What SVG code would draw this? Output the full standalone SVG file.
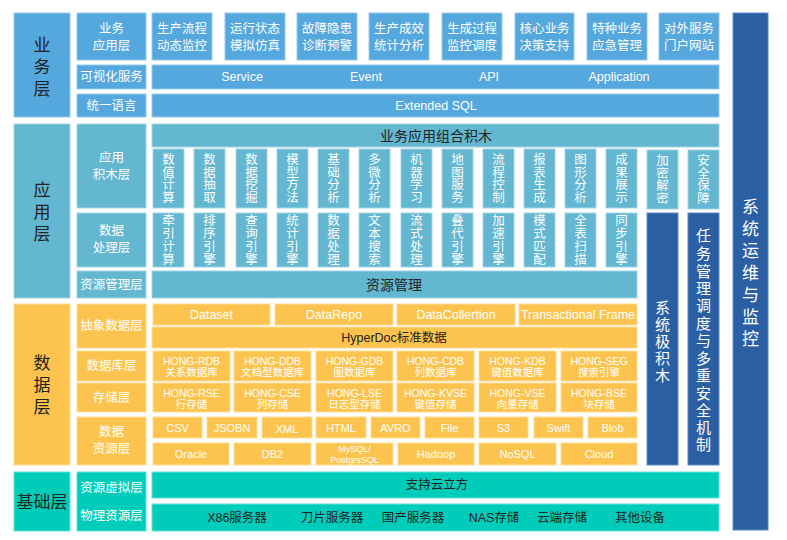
<svg xmlns="http://www.w3.org/2000/svg" width="787" height="540" viewBox="0 0 787 540">
<style>
text{font-family:"Liberation Sans","Noto Sans CJK SC",sans-serif;text-anchor:middle;dominant-baseline:central}
.b{fill:#55A8DD;stroke:#93CBEE;stroke-width:1}
.a{fill:#63B7D1;stroke:#A3D5E5;stroke-width:1}
.d{fill:#FCC44E;stroke:#FDDC95;stroke-width:1}
.g{fill:#00CDB9;stroke:#6BE2D6;stroke-width:1}
.k{fill:#2A5FA4;stroke:#5F8AC2;stroke-width:1}
.w{fill:#fff}
.t{fill:#222}
.f12{font-size:12.5px}
.f11{font-size:11px}
.f10{font-size:10.5px}
.f9{font-size:9px}
.big{font-size:17px}
</style>
<rect width="787" height="540" fill="#fff"/>

<!-- Business layer -->
<g id="biz-layer">
<rect class="b" x="14" y="13" width="56" height="104"/>
<text class="t big" x="42" y="45">业</text><text class="t big" x="42" y="67">务</text><text class="t big" x="42" y="89">层</text>
</g>
<g id="biz-app-label"><rect class="b" x="77" y="13" width="69" height="47"/>
<text class="w f12" x="111.5" y="29">业务</text><text class="w f12" x="111.5" y="46">应用层</text></g>
<g id="biz-vis-label"><rect class="b" x="77" y="65" width="69" height="24"/><text class="w f12" x="111.5" y="77">可视化服务</text></g>
<g id="biz-lang-label"><rect class="b" x="77" y="94" width="69" height="23"/><text class="w f12" x="111.5" y="105.5">统一语言</text></g>
<g id="biz-f1"><rect class="b" x="152" y="13" width="60" height="47"/><text class="w f12" x="182" y="29">生产流程</text><text class="w f12" x="182" y="46">动态监控</text></g>
<g id="biz-f2"><rect class="b" x="225" y="13" width="60" height="47"/><text class="w f12" x="255" y="29">运行状态</text><text class="w f12" x="255" y="46">模拟仿真</text></g>
<g id="biz-f3"><rect class="b" x="297" y="13" width="60" height="47"/><text class="w f12" x="327" y="29">故障隐患</text><text class="w f12" x="327" y="46">诊断预警</text></g>
<g id="biz-f4"><rect class="b" x="369" y="13" width="60" height="47"/><text class="w f12" x="399" y="29">生产成效</text><text class="w f12" x="399" y="46">统计分析</text></g>
<g id="biz-f5"><rect class="b" x="442" y="13" width="60" height="47"/><text class="w f12" x="472" y="29">生成过程</text><text class="w f12" x="472" y="46">监控调度</text></g>
<g id="biz-f6"><rect class="b" x="515" y="13" width="59" height="47"/><text class="w f12" x="544.5" y="29">核心业务</text><text class="w f12" x="544.5" y="46">决策支持</text></g>
<g id="biz-f7"><rect class="b" x="587" y="13" width="60" height="47"/><text class="w f12" x="617" y="29">特种业务</text><text class="w f12" x="617" y="46">应急管理</text></g>
<g id="biz-f8"><rect class="b" x="659" y="13" width="60" height="47"/><text class="w f12" x="689" y="29">对外服务</text><text class="w f12" x="689" y="46">门户网站</text></g>
<g id="biz-services"><rect class="b" x="152" y="65" width="567" height="24"/>
<text class="w f12" x="242" y="77">Service</text><text class="w f12" x="366" y="77">Event</text><text class="w f12" x="489" y="77">API</text><text class="w f12" x="619" y="77">Application</text></g>
<g id="biz-sql"><rect class="b" x="152" y="94" width="567" height="23"/><text class="w f12" x="436" y="105.5">Extended SQL</text></g>

<!-- Application layer -->
<g id="app-layer"><rect class="a" x="14" y="124" width="56" height="174"/>
<text class="t big" x="42" y="190">应</text><text class="t big" x="42" y="212">用</text><text class="t big" x="42" y="234">层</text></g>
<g id="app-block-label"><rect class="a" x="77" y="124" width="69" height="84"/><text class="w f12" x="111.5" y="158">应用</text><text class="w f12" x="111.5" y="175">积木层</text></g>
<g id="app-proc-label"><rect class="a" x="77" y="213" width="69" height="54"/><text class="w f12" x="111.5" y="231">数据</text><text class="w f12" x="111.5" y="248">处理层</text></g>
<g id="app-res-label"><rect class="a" x="77" y="271" width="69" height="27"/><text class="w f12" x="111.5" y="284.5">资源管理层</text></g>
<g id="app-combo"><rect class="a" x="152" y="124" width="567" height="23"/><text class="t" font-size="14" x="436" y="135.5">业务应用组合积木</text></g>

<g id="app-r1-1"><rect class="a" x="153" y="149" width="31" height="59"/><text class="w f12"><tspan x="168.5" y="160">数</tspan><tspan x="168.5" y="172.5">值</tspan><tspan x="168.5" y="185">计</tspan><tspan x="168.5" y="197.5">算</tspan></text></g>
<g id="app-r1-2"><rect class="a" x="194" y="149" width="31" height="59"/><text class="w f12"><tspan x="209.5" y="160">数</tspan><tspan x="209.5" y="172.5">据</tspan><tspan x="209.5" y="185">抽</tspan><tspan x="209.5" y="197.5">取</tspan></text></g>
<g id="app-r1-3"><rect class="a" x="236" y="149" width="31" height="59"/><text class="w f12"><tspan x="251.5" y="160">数</tspan><tspan x="251.5" y="172.5">据</tspan><tspan x="251.5" y="185">挖</tspan><tspan x="251.5" y="197.5">掘</tspan></text></g>
<g id="app-r1-4"><rect class="a" x="277" y="149" width="31" height="59"/><text class="w f12"><tspan x="292.5" y="160">模</tspan><tspan x="292.5" y="172.5">型</tspan><tspan x="292.5" y="185">方</tspan><tspan x="292.5" y="197.5">法</tspan></text></g>
<g id="app-r1-5"><rect class="a" x="318" y="149" width="31" height="59"/><text class="w f12"><tspan x="333.5" y="160">基</tspan><tspan x="333.5" y="172.5">础</tspan><tspan x="333.5" y="185">分</tspan><tspan x="333.5" y="197.5">析</tspan></text></g>
<g id="app-r1-6"><rect class="a" x="359" y="149" width="31" height="59"/><text class="w f12"><tspan x="374.5" y="160">多</tspan><tspan x="374.5" y="172.5">微</tspan><tspan x="374.5" y="185">分</tspan><tspan x="374.5" y="197.5">析</tspan></text></g>
<g id="app-r1-7"><rect class="a" x="401" y="149" width="31" height="59"/><text class="w f12"><tspan x="416.5" y="160">机</tspan><tspan x="416.5" y="172.5">器</tspan><tspan x="416.5" y="185">学</tspan><tspan x="416.5" y="197.5">习</tspan></text></g>
<g id="app-r1-8"><rect class="a" x="442" y="149" width="31" height="59"/><text class="w f12"><tspan x="457.5" y="160">地</tspan><tspan x="457.5" y="172.5">图</tspan><tspan x="457.5" y="185">服</tspan><tspan x="457.5" y="197.5">务</tspan></text></g>
<g id="app-r1-9"><rect class="a" x="483" y="149" width="31" height="59"/><text class="w f12"><tspan x="498.5" y="160">流</tspan><tspan x="498.5" y="172.5">程</tspan><tspan x="498.5" y="185">控</tspan><tspan x="498.5" y="197.5">制</tspan></text></g>
<g id="app-r1-10"><rect class="a" x="524" y="149" width="31" height="59"/><text class="w f12"><tspan x="539.5" y="160">报</tspan><tspan x="539.5" y="172.5">表</tspan><tspan x="539.5" y="185">生</tspan><tspan x="539.5" y="197.5">成</tspan></text></g>
<g id="app-r1-11"><rect class="a" x="565" y="149" width="31" height="59"/><text class="w f12"><tspan x="580.5" y="160">图</tspan><tspan x="580.5" y="172.5">形</tspan><tspan x="580.5" y="185">分</tspan><tspan x="580.5" y="197.5">析</tspan></text></g>
<g id="app-r1-12"><rect class="a" x="606" y="149" width="31" height="59"/><text class="w f12"><tspan x="621.5" y="160">成</tspan><tspan x="621.5" y="172.5">果</tspan><tspan x="621.5" y="185">展</tspan><tspan x="621.5" y="197.5">示</tspan></text></g>
<g id="app-r1-13"><rect class="a" x="647" y="150" width="31" height="59"/><text class="w f12"><tspan x="662.5" y="161">加</tspan><tspan x="662.5" y="173.5">密</tspan><tspan x="662.5" y="186">解</tspan><tspan x="662.5" y="198.5">密</tspan></text></g>
<g id="app-r1-14"><rect class="a" x="688" y="150" width="31" height="59"/><text class="w f12"><tspan x="703.5" y="161">安</tspan><tspan x="703.5" y="173.5">全</tspan><tspan x="703.5" y="186">保</tspan><tspan x="703.5" y="198.5">障</tspan></text></g>

<g id="app-r2-1"><rect class="a" x="153" y="213" width="31" height="54"/><text class="w f12"><tspan x="168.5" y="220.5">牵</tspan><tspan x="168.5" y="233.5">引</tspan><tspan x="168.5" y="246.5">计</tspan><tspan x="168.5" y="259.5">算</tspan></text></g>
<g id="app-r2-2"><rect class="a" x="194" y="213" width="31" height="54"/><text class="w f12"><tspan x="209.5" y="220.5">排</tspan><tspan x="209.5" y="233.5">序</tspan><tspan x="209.5" y="246.5">引</tspan><tspan x="209.5" y="259.5">擎</tspan></text></g>
<g id="app-r2-3"><rect class="a" x="236" y="213" width="31" height="54"/><text class="w f12"><tspan x="251.5" y="220.5">查</tspan><tspan x="251.5" y="233.5">询</tspan><tspan x="251.5" y="246.5">引</tspan><tspan x="251.5" y="259.5">擎</tspan></text></g>
<g id="app-r2-4"><rect class="a" x="277" y="213" width="31" height="54"/><text class="w f12"><tspan x="292.5" y="220.5">统</tspan><tspan x="292.5" y="233.5">计</tspan><tspan x="292.5" y="246.5">引</tspan><tspan x="292.5" y="259.5">擎</tspan></text></g>
<g id="app-r2-5"><rect class="a" x="318" y="213" width="31" height="54"/><text class="w f12"><tspan x="333.5" y="220.5">数</tspan><tspan x="333.5" y="233.5">据</tspan><tspan x="333.5" y="246.5">处</tspan><tspan x="333.5" y="259.5">理</tspan></text></g>
<g id="app-r2-6"><rect class="a" x="359" y="213" width="31" height="54"/><text class="w f12"><tspan x="374.5" y="220.5">文</tspan><tspan x="374.5" y="233.5">本</tspan><tspan x="374.5" y="246.5">搜</tspan><tspan x="374.5" y="259.5">索</tspan></text></g>
<g id="app-r2-7"><rect class="a" x="401" y="213" width="31" height="54"/><text class="w f12"><tspan x="416.5" y="220.5">流</tspan><tspan x="416.5" y="233.5">式</tspan><tspan x="416.5" y="246.5">处</tspan><tspan x="416.5" y="259.5">理</tspan></text></g>
<g id="app-r2-8"><rect class="a" x="442" y="213" width="31" height="54"/><text class="w f12"><tspan x="457.5" y="220.5">叠</tspan><tspan x="457.5" y="233.5">代</tspan><tspan x="457.5" y="246.5">引</tspan><tspan x="457.5" y="259.5">擎</tspan></text></g>
<g id="app-r2-9"><rect class="a" x="483" y="213" width="31" height="54"/><text class="w f12"><tspan x="498.5" y="220.5">加</tspan><tspan x="498.5" y="233.5">速</tspan><tspan x="498.5" y="246.5">引</tspan><tspan x="498.5" y="259.5">擎</tspan></text></g>
<g id="app-r2-10"><rect class="a" x="524" y="213" width="31" height="54"/><text class="w f12"><tspan x="539.5" y="220.5">模</tspan><tspan x="539.5" y="233.5">式</tspan><tspan x="539.5" y="246.5">匹</tspan><tspan x="539.5" y="259.5">配</tspan></text></g>
<g id="app-r2-11"><rect class="a" x="565" y="213" width="31" height="54"/><text class="w f12"><tspan x="580.5" y="220.5">全</tspan><tspan x="580.5" y="233.5">表</tspan><tspan x="580.5" y="246.5">扫</tspan><tspan x="580.5" y="259.5">描</tspan></text></g>
<g id="app-r2-12"><rect class="a" x="606" y="213" width="31" height="54"/><text class="w f12"><tspan x="621.5" y="220.5">同</tspan><tspan x="621.5" y="233.5">步</tspan><tspan x="621.5" y="246.5">引</tspan><tspan x="621.5" y="259.5">擎</tspan></text></g>
<g id="app-resource"><rect class="a" x="152" y="271" width="485" height="27"/><text class="t" font-size="14" x="394" y="284.5">资源管理</text></g>

<!-- Vertical system columns -->
<g id="sys-blocks"><rect class="k" x="647" y="213" width="31" height="252"/>
<text class="w" font-size="15"><tspan x="662.5" y="307">系</tspan><tspan x="662.5" y="324">统</tspan><tspan x="662.5" y="341">极</tspan><tspan x="662.5" y="358">积</tspan><tspan x="662.5" y="375">木</tspan></text></g>
<g id="task-mgmt"><rect class="k" x="688" y="213" width="31" height="252"/>
<text class="w" font-size="15"><tspan x="703.5" y="235">任</tspan><tspan x="703.5" y="253">务</tspan><tspan x="703.5" y="270.5">管</tspan><tspan x="703.5" y="288">理</tspan><tspan x="703.5" y="305">调</tspan><tspan x="703.5" y="322.5">度</tspan><tspan x="703.5" y="340">与</tspan><tspan x="703.5" y="357.5">多</tspan><tspan x="703.5" y="375">重</tspan><tspan x="703.5" y="392.5">安</tspan><tspan x="703.5" y="410">全</tspan><tspan x="703.5" y="427">机</tspan><tspan x="703.5" y="444">制</tspan></text></g>
<g id="ops-monitor"><rect class="k" x="733" y="13" width="35" height="517"/>
<text class="w" font-size="17"><tspan x="750.5" y="207">系</tspan><tspan x="750.5" y="229">统</tspan><tspan x="750.5" y="251">运</tspan><tspan x="750.5" y="273">维</tspan><tspan x="750.5" y="295">与</tspan><tspan x="750.5" y="317">监</tspan><tspan x="750.5" y="339">控</tspan></text></g>

<!-- Data layer -->
<g id="data-layer"><rect class="d" x="14" y="304" width="56" height="161"/>
<text class="t big" x="42" y="363">数</text><text class="t big" x="42" y="385">据</text><text class="t big" x="42" y="407">层</text></g>
<g id="data-abs-label"><rect class="d" x="77" y="304" width="69" height="44"/><text class="w f12" x="111.5" y="326">抽象数据层</text></g>
<g id="data-db-label"><rect class="d" x="77" y="351" width="69" height="30"/><text class="w f12" x="111.5" y="366">数据库层</text></g>
<g id="data-st-label"><rect class="d" x="77" y="383" width="69" height="29"/><text class="w f12" x="111.5" y="397.5">存储层</text></g>
<g id="data-res-label"><rect class="d" x="77" y="417" width="69" height="48"/><text class="w f12" x="111.5" y="432">数据</text><text class="w f12" x="111.5" y="449">资源层</text></g>

<g id="abs-dataset"><rect class="d" x="153" y="304" width="117" height="21"/><text class="w f12" x="211.5" y="314.5">Dataset</text></g>
<g id="abs-datarepo"><rect class="d" x="275" y="304" width="118" height="21"/><text class="w f12" x="334" y="314.5">DataRepo</text></g>
<g id="abs-datacol"><rect class="d" x="397" y="304" width="118" height="21"/><text class="w f12" x="456" y="314.5">DataCollertion</text></g>
<g id="abs-trans"><rect class="d" x="519" y="304" width="118" height="21"/><text class="w f12" x="578" y="314.5">Transactional Frame</text></g>
<g id="abs-hyperdoc"><rect class="d" x="152" y="327" width="485" height="21"/><text class="t f12" x="394" y="337.5">HyperDoc标准数据</text></g>

<g id="db-rdb"><rect class="d" x="153" y="351" width="77" height="30"/><text class="w f10" x="191.5" y="361">HONG-RDB</text><text class="w f10" x="191.5" y="372">关系数据库</text></g>
<g id="db-ddb"><rect class="d" x="234" y="351" width="77" height="30"/><text class="w f10" x="272.5" y="361">HONG-DDB</text><text class="w f10" x="272.5" y="372">文档型数据库</text></g>
<g id="db-gdb"><rect class="d" x="316" y="351" width="77" height="30"/><text class="w f10" x="354.5" y="361">HONG-GDB</text><text class="w f10" x="354.5" y="372">图数据库</text></g>
<g id="db-cdb"><rect class="d" x="397" y="351" width="77" height="30"/><text class="w f10" x="435.5" y="361">HONG-CDB</text><text class="w f10" x="435.5" y="372">列数据库</text></g>
<g id="db-kdb"><rect class="d" x="479" y="351" width="77" height="30"/><text class="w f10" x="517.5" y="361">HONG-KDB</text><text class="w f10" x="517.5" y="372">键值数据库</text></g>
<g id="db-seg"><rect class="d" x="561" y="351" width="76" height="30"/><text class="w f10" x="599" y="361">HONG-SEG</text><text class="w f10" x="599" y="372">搜索引擎</text></g>

<g id="st-rse"><rect class="d" x="153" y="383" width="77" height="29"/><text class="w f10" x="191.5" y="393">HONG-RSE</text><text class="w f10" x="191.5" y="404">行存储</text></g>
<g id="st-cse"><rect class="d" x="234" y="383" width="77" height="29"/><text class="w f10" x="272.5" y="393">HONG-CSE</text><text class="w f10" x="272.5" y="404">列存储</text></g>
<g id="st-lse"><rect class="d" x="316" y="383" width="77" height="29"/><text class="w f10" x="354.5" y="393">HONG-LSE</text><text class="w f10" x="354.5" y="404">日志型存储</text></g>
<g id="st-kvse"><rect class="d" x="397" y="383" width="77" height="29"/><text class="w f10" x="435.5" y="393">HONG-KVSE</text><text class="w f10" x="435.5" y="404">键值存储</text></g>
<g id="st-vse"><rect class="d" x="479" y="383" width="77" height="29"/><text class="w f10" x="517.5" y="393">HONG-VSE</text><text class="w f10" x="517.5" y="404">向量存储</text></g>
<g id="st-bse"><rect class="d" x="561" y="383" width="76" height="29"/><text class="w f10" x="599" y="393">HONG-BSE</text><text class="w f10" x="599" y="404">块存储</text></g>

<g id="rs-csv"><rect class="d" x="153" y="417" width="49" height="21"/><text class="w f11" x="177.5" y="427.5">CSV</text></g>
<g id="rs-jsobn"><rect class="d" x="207" y="417" width="50" height="21"/><text class="w f11" x="232" y="427.5">JSOBN</text></g>
<g id="rs-xml"><rect class="d" x="262" y="417" width="50" height="21"/><text class="w f11" x="287" y="429">XML</text></g>
<g id="rs-html"><rect class="d" x="316" y="417" width="50" height="21"/><text class="w f11" x="341" y="427.5">HTML</text></g>
<g id="rs-avro"><rect class="d" x="371" y="417" width="49" height="21"/><text class="w f11" x="395.5" y="427.5">AVRO</text></g>
<g id="rs-file"><rect class="d" x="425" y="417" width="49" height="21"/><text class="w f11" x="449.5" y="427.5">File</text></g>
<g id="rs-s3"><rect class="d" x="479" y="417" width="49" height="21"/><text class="w f11" x="503.5" y="427.5">S3</text></g>
<g id="rs-swift"><rect class="d" x="534" y="417" width="49" height="21"/><text class="w f11" x="558.5" y="427.5">Swift</text></g>
<g id="rs-blob"><rect class="d" x="588" y="417" width="49" height="21"/><text class="w f11" x="612.5" y="427.5">Blob</text></g>

<g id="rs-oracle"><rect class="d" x="153" y="443" width="76" height="22"/><text class="w f11" x="191" y="454">Oracle</text></g>
<g id="rs-db2"><rect class="d" x="234" y="443" width="77" height="22"/><text class="w f11" x="272.5" y="454">DB2</text></g>
<g id="rs-mysql"><rect class="d" x="316" y="443" width="77" height="22"/><text class="w f9" x="354.5" y="448.5">MySQL/</text><text class="w f9" x="354.5" y="459.5">PostgrsSQL</text></g>
<g id="rs-hadoop"><rect class="d" x="398" y="443" width="76" height="22"/><text class="w f11" x="436" y="454">Hadoop</text></g>
<g id="rs-nosql"><rect class="d" x="479" y="443" width="77" height="22"/><text class="w f11" x="517.5" y="454">NoSQL</text></g>
<g id="rs-cloud"><rect class="d" x="561" y="443" width="76" height="22"/><text class="w f11" x="599" y="454">Cloud</text></g>

<!-- Base layer -->
<g id="base-layer"><rect class="g" x="14" y="472" width="56" height="59"/><text class="t big" x="42" y="502">基础层</text></g>
<g id="base-label"><rect class="g" x="77" y="472" width="69" height="59"/><text class="w f12" x="111.5" y="488">资源虚拟层</text><text class="w f12" x="111.5" y="516">物理资源层</text></g>
<g id="base-cloud"><rect class="g" x="152" y="472" width="567" height="26"/><text class="t f12" x="437" y="485">支持云立方</text></g>
<g id="base-physical"><rect class="g" x="152" y="504" width="567" height="27"/>
<text class="t f12" x="237" y="518">X86服务器</text><text class="t f12" x="332" y="518">刀片服务器</text><text class="t f12" x="413" y="518">国产服务器</text><text class="t f12" x="494" y="518">NAS存储</text><text class="t f12" x="562" y="518">云端存储</text><text class="t f12" x="640" y="518">其他设备</text></g>

<g id="connectors"></g>
</svg>
